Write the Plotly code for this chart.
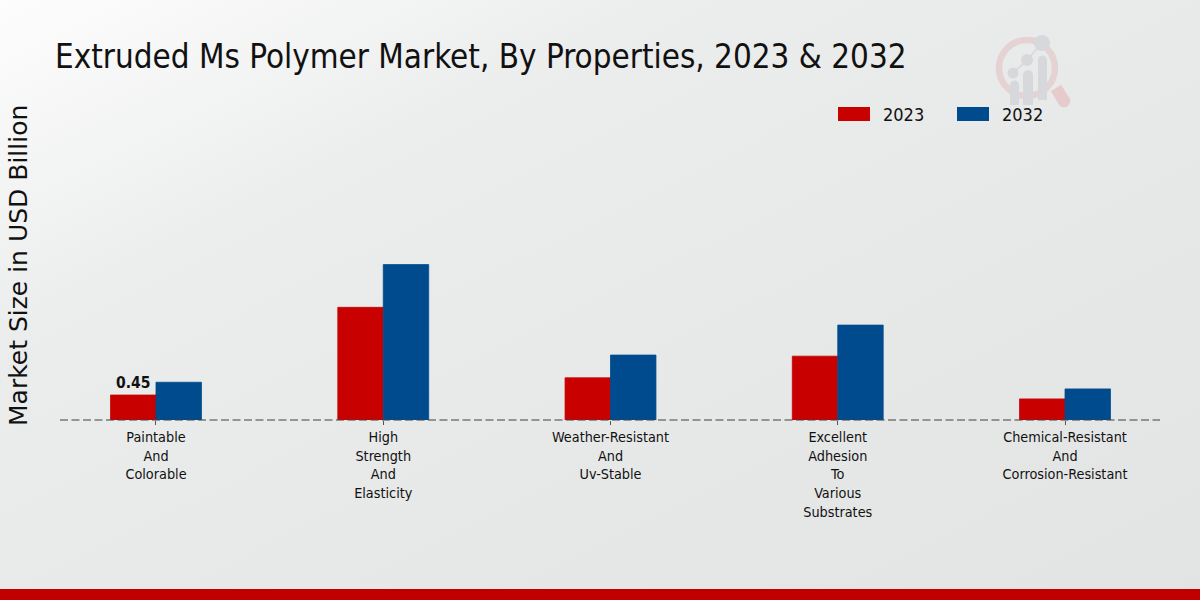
import plotly.graph_objects as go

W = 1200
H = 600

categories = [
    "Paintable<br>And<br>Colorable",
    "High<br>Strength<br>And<br>Elasticity",
    "Weather-Resistant<br>And<br>Uv-Stable",
    "Excellent<br>Adhesion<br>To<br>Various<br>Substrates",
    "Chemical-Resistant<br>And<br>Corrosion-Resistant",
]
values_2023 = [0.45, 2.03, 0.76, 1.15, 0.38]
values_2032 = [0.68, 2.80, 1.17, 1.71, 0.56]
labels_2023 = ["0.45", "", "", "", ""]

RED = "#c80000"
BLUE = "#004b8d"
FONT = "DejaVu Sans Condensed"
INK = "#111111"
LOGO_GREY = "#d6d8db"

# background gradient, white-ish top left going to grey
bg = (
    "data:image/svg+xml;utf8,<svg xmlns='http://www.w3.org/2000/svg' width='1200' height='600'>"
    "<defs><linearGradient id='g' x1='0' y1='0' x2='1' y2='1'>"
    "<stop offset='0' stop-color='%23fdfdfd'/><stop offset='0.3' stop-color='%23ebecec'/>"
    "<stop offset='1' stop-color='%23e2e3e3'/></linearGradient></defs>"
    "<rect width='1200' height='600' fill='url(%23g)'/></svg>"
)


def px(x):
    return x / W


def py(y):
    return 1 - y / H


def rect(x0, y0, x1, y1, color, **kw):
    return dict(type="rect", xref="paper", yref="paper", x0=px(x0), x1=px(x1),
                y0=py(y0), y1=py(y1), fillcolor=color, line_width=0, **kw)


def circle(cx, cy, r, **kw):
    return dict(type="circle", xref="paper", yref="paper", x0=px(cx - r), x1=px(cx + r),
                y0=py(cy + r), y1=py(cy - r), layer="below", **kw)


def seg(x0, y0, x1, y1, color, width, dash="solid", layer="below"):
    return dict(type="line", xref="paper", yref="paper", x0=px(x0), x1=px(x1),
                y0=py(y0), y1=py(y1), layer=layer,
                line=dict(color=color, width=width, dash=dash))


fig = go.Figure()
fig.add_trace(go.Bar(x=categories, y=values_2023, name="2023",
                     marker=dict(color=RED, line=dict(color=RED, width=0.8)),
                     text=labels_2023, textposition="outside", cliponaxis=False,
                     textfont=dict(family=FONT, size=15.5, color=INK, weight="bold")))
fig.add_trace(go.Bar(x=categories, y=values_2032, name="2032",
                     marker=dict(color=BLUE, line=dict(color=BLUE, width=0.8))))

shapes = [
    # logo: magnifier handle and ring, then the little bars
    seg(1056, 88, 1064, 101, "#e6cacc", 12),
    circle(1064, 101, 6.2, line_width=0, fillcolor="#e6cacc"),
    circle(1027, 68, 28, line=dict(color="#e5d3d4", width=6.5), fillcolor="rgba(0,0,0,0)"),
    seg(1013, 73, 1027, 60, LOGO_GREY, 1.5),
    seg(1027, 60, 1042, 43, LOGO_GREY, 1.5),
    circle(1013, 73, 5.5, line_width=0, fillcolor=LOGO_GREY),
    circle(1027, 60, 6, line_width=0, fillcolor=LOGO_GREY),
    circle(1042, 43, 8, line_width=0, fillcolor=LOGO_GREY),
    circle(1014.5, 85, 4.5, line_width=0, fillcolor=LOGO_GREY),
    circle(1028, 75, 5, line_width=0, fillcolor=LOGO_GREY),
    circle(1042.5, 60, 4.5, line_width=0, fillcolor=LOGO_GREY),
    rect(1010, 85, 1019, 105, LOGO_GREY, layer="below"),
    rect(1023, 75, 1033, 105, LOGO_GREY, layer="below"),
    rect(1038, 60, 1047, 100, LOGO_GREY, layer="below"),
    # dashed baseline
    seg(60, 420, 1160, 420, "#404040", 1.2, dash="8px,3.5px", layer="above"),
    # bottom band
    rect(0, 589, 1200, 600, "#c00000", layer="above"),
    # legend keys
    rect(838, 107, 870, 121, RED, layer="above"),
    rect(957, 107, 989, 121, BLUE, layer="above"),
]

annotations = [
    dict(text="Extruded Ms Polymer Market, By Properties, 2023 & 2032", x=px(53), y=py(57),
         xanchor="left", yanchor="middle", font=dict(size=32.9, color=INK)),
    dict(text="Market Size in USD Billion", x=px(18), y=py(266), textangle=-90,
         xanchor="center", yanchor="middle", font=dict(family="DejaVu Sans", size=25, color=INK)),
    dict(text="2023", x=px(881), y=py(115), xanchor="left", yanchor="middle",
         font=dict(size=18, color=INK)),
    dict(text="2032", x=px(1000), y=py(115), xanchor="left", yanchor="middle",
         font=dict(size=18, color=INK)),
]
for a in annotations:
    a.update(xref="paper", yref="paper", showarrow=False)

fig.update_layout(
    width=W, height=H,
    margin=dict(l=0, r=0, t=0, b=0),
    paper_bgcolor="#e6e7e7",
    plot_bgcolor="rgba(0,0,0,0)",
    font=dict(family=FONT, color=INK),
    barmode="group",
    bargap=0.6,
    bargroupgap=0,
    showlegend=False,
    shapes=shapes,
    annotations=annotations,
    images=[dict(source=bg, xref="paper", yref="paper", x=0, y=1, sizex=1, sizey=1,
                 xanchor="left", yanchor="top", sizing="stretch", layer="below")],
    xaxis=dict(domain=[px(60), px(1160)], range=[-0.4224, 4.418], type="category",
               showgrid=False, zeroline=False, showline=False, ticks="outside", ticklen=4,
               tickcolor="#555555", tickfont=dict(size=14.3, color=INK), tickangle=0),
    yaxis=dict(domain=[py(420), py(100)], range=[0, 320 / 55.5], visible=False),
)

# page margin would push the figure 8px down and right
fig.write_html("out.html", config=dict(displayModeBar=False),
               post_script="document.body.style.margin='0';")
